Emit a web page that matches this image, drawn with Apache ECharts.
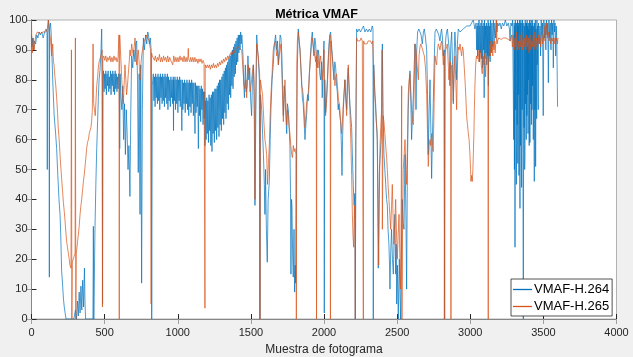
<!DOCTYPE html>
<html>
<head>
<meta charset="utf-8">
<script src="https://cdn.jsdelivr.net/npm/echarts@6/dist/echarts.min.js"></script>
<style>
html,body{margin:0;padding:0;background:#f0f0f0;}
#c{width:633px;height:357px;}
</style>
</head>
<body>
<div id="c"></div>
<script>
const chartTitle = 'Métrica VMAF';
const xAxisName = 'Muestra de fotograma';
const seriesNames = ['VMAF-H.264', 'VMAF-H.265'];
const xTicks = [0, 500, 1000, 1500, 2000, 2500, 3000, 3500, 4000];
const yTicks = [0, 10, 20, 30, 40, 50, 60, 70, 80, 90, 100];

// [frame, VMAF]
const vmafH264 = [
[0,95],[4,91],[8,94],[14,90],[20,93],[28,92],[36,95],[44,94],[52,96],[60,95],[70,96],[80,94],[90,96],[100,97],[106,96],[108,50],[110,95],[116,100],[120,98],[122,14],[124,97],[130,99],[134,96],[138,91],[145,80],[155,68],[165,62],[172,57],[180,48],[188,40],[195,35],[200,28],[206,16],[212,12],[218,7],[224,4],[230,2],[236,0],[290,0],[300,3],[308,0],[314,6],[320,1],[326,9],[332,2],[338,11],[344,3],[350,13],[356,4],[362,17],[366,5],[370,0],[420,0],[423,31],[426,0],[434,30],[440,45],[446,57],[452,66],[457,74],[462,80],[468,83],[474,88],[480,97],[484,78],[486,5],
[488,80],[492,83],[496,76],[500,82],[504,77],[508,83],[512,75],[516,82],[520,78],[524,83],[528,76],[532,81],[536,77],[540,83],[544,75],[548,82],[552,78],[556,83],[560,76],[564,82],[568,75],[572,83],[576,77],[580,82],[584,76],[588,81],[592,77],[596,82],[600,80],[603,57],[606,82],[612,74],[618,70],[624,78],[630,60],[636,72],[642,55],[648,70],[654,62],[660,50],[666,58],[673,41],[679,70],[685,88],[692,84],[700,90],[708,86],[714,92],[719,93],[725,80],[730,49],[736,82],[742,35],[747,85],[753,12],[758,70],[765,94],[772,90],[780,95],[788,92],[795,96],[800,95],[806,92],[812,94],[818,90],[822,0],[826,78],
[833,82],[837,73],[841,81],[845,71],[849,82],[853,74],[857,81],[861,72],[865,82],[869,73],[873,81],[877,70],[881,82],[885,74],[889,81],[893,72],[897,82],[901,73],[905,81],[909,71],[913,82],[917,74],[921,81],[925,72],[929,82],[933,70],[937,81],[941,73],[945,80],[949,71],[953,81],[957,74],[961,80],[965,72],[969,81],[971,63],[973,80],[977,73],[981,81],[985,70],[989,80],[993,72],[997,81],[1001,69],[1005,80],[1009,73],[1013,81],[1017,71],[1021,80],[1025,72],[1028,63],[1031,80],[1035,70],[1039,79],[1043,72],[1047,80],[1051,69],[1055,79],[1059,72],[1063,80],[1067,70],[1071,79],[1075,68],[1079,80],[1083,71],[1087,79],[1091,69],[1095,80],[1099,72],[1103,79],[1107,68],[1111,79],[1115,70],[1118,62],[1121,79],[1125,69],[1129,78],[1133,71],[1137,78],[1141,57],[1145,78],[1149,68],[1153,77],[1157,66],[1161,78],[1165,70],[1169,77],[1173,65],[1177,76],[1181,67],[1184,76],[1186,58],
[1190,73],[1194,60],[1198,74],[1202,62],[1206,73],[1210,59],[1214,75],[1218,63],[1222,74],[1226,58],[1230,75],[1234,56],[1238,76],[1242,62],[1246,76],[1250,59],[1254,77],[1258,63],[1262,77],[1266,60],[1270,78],[1274,64],[1278,79],[1282,61],[1286,80],[1290,65],[1294,80],[1298,63],[1302,81],[1306,67],[1310,82],[1314,65],[1318,83],[1322,69],[1326,84],[1330,67],[1334,85],[1338,72],[1342,86],[1346,70],[1350,87],[1354,75],[1358,88],[1362,74],[1366,89],[1370,78],[1374,90],[1378,77],[1382,91],[1386,81],[1390,92],[1394,82],[1398,93],[1402,85],[1406,94],[1410,86],[1414,95],[1418,89],[1422,95],[1426,90],[1430,96],[1434,92],[1438,95],
[1442,92],[1446,88],[1450,80],[1456,74],[1462,85],[1468,76],[1474,78],[1480,88],[1486,80],[1492,84],[1498,74],[1505,68],[1511,80],[1517,85],[1522,75],[1528,38],[1534,70],[1540,95],[1546,90],[1552,86],[1558,80],[1562,0],[1566,75],[1574,70],[1580,62],[1586,55],[1592,45],[1596,35],[1600,50],[1606,30],[1612,19],[1618,40],[1626,46],[1632,60],[1637,70],[1645,80],[1653,85],[1661,92],[1669,95],[1676,90],[1682,93],[1688,85],[1694,90],[1700,95],[1706,94],[1712,88],[1718,76],[1722,68],[1728,78],[1733,75],[1739,68],[1745,62],[1750,72],[1756,70],[1762,64],[1767,58],[1771,42],[1774,15],[1778,40],[1781,38],[1786,20],[1790,14],[1795,30],[1799,9],[1803,18],[1806,12],[1810,40],[1813,60],[1818,85],[1824,97],[1830,93],[1836,90],[1842,84],[1847,80],[1852,74],[1858,72],[1864,66],[1870,60],[1876,65],[1881,68],[1887,75],[1893,73],[1900,82],[1909,90],[1915,94],[1920,96],[1925,92],[1931,88],[1937,94],[1943,92],[1948,86],[1954,84],[1960,90],[1966,88],[1971,82],[1977,80],[1983,86],[1988,74],[1994,85],[2000,93],[2002,2],[2005,80],[2011,69],[2017,74],[2023,80],[2028,86],[2034,92],[2040,95],[2045,96],[2051,92],[2057,88],[2062,84],[2068,80],[2074,86],[2080,84],[2086,78],[2091,76],[2097,70],[2102,72],[2108,68],[2114,66],[2119,58],[2123,48],[2127,60],[2132,70],[2138,76],[2143,80],[2149,74],[2155,70],[2160,80],[2166,84],[2171,78],[2177,72],[2183,68],[2189,64],[2194,55],[2200,45],[2206,38],[2211,42],[2214,0],[2218,60],
[2223,97],[2230,96],[2240,97],[2250,96],[2260,97],[2270,98],[2280,96],[2290,97],[2300,96],[2310,97],[2320,96],[2330,98],[2335,97],[2337,0],[2340,85],[2344,80],[2348,75],[2353,72],[2358,66],[2364,60],[2368,40],[2371,17],[2375,35],[2379,50],[2383,50],[2388,58],[2394,62],[2399,92],[2404,70],[2410,55],[2416,50],[2422,45],[2428,40],[2433,38],[2438,30],[2444,25],[2448,18],[2451,10],[2456,22],[2462,30],[2468,20],[2474,15],[2480,28],[2485,35],[2490,15],[2494,25],[2497,5],[2502,18],[2508,0],[2512,12],[2515,20],[2520,8],[2524,0],[2530,25],[2535,40],[2541,32],[2547,30],[2551,45],[2554,55],[2560,35],[2565,10],[2570,50],[2576,70],[2582,78],[2588,83],[2594,72],[2599,60],[2605,68],[2611,75],[2617,85],
[2622,92],[2626,88],[2629,70],[2634,90],[2640,96],[2648,97],[2656,97],[2664,95],[2672,92],[2680,96],[2686,97],[2694,94],[2702,90],[2708,75],[2713,55],[2719,70],[2725,80],[2730,65],[2736,47],[2741,60],[2747,72],[2753,85],[2759,96],[2768,97],[2777,97],[2785,95],[2793,93],[2800,96],[2804,97],[2810,94],[2816,88],[2822,90],[2825,0],[2828,90],[2833,94],[2838,96],[2844,97],[2850,97],[2856,90],[2861,78],[2867,92],[2873,96],[2879,85],[2884,72],[2890,88],[2895,96],[2901,90],[2907,80],[2912,92],[2918,97],[2930,96],[2941,96],[2952,97],[2964,97],[2976,98],[2987,98],[2998,98],[3009,99],[3021,100],[3028,98],[3032,97],
[3040,99],[3044,90],[3047,98],[3050,88],[3053,99],[3056,90],[3060,100],[3063,86],[3066,98],[3070,89],[3073,99],[3076,87],[3080,100],[3083,84],[3086,98],[3090,90],[3093,99],[3095,74],[3098,100],[3101,87],[3104,98],[3107,89],[3110,99],[3113,85],[3116,98],[3119,88],[3122,100],[3124,78],[3127,99],[3130,88],[3133,98],[3136,86],[3139,100],[3143,89],[3148,99],[3153,91],[3158,100],[3163,93],[3168,99],[3173,94],[3178,100],[3183,96],[3188,99],[3195,98],[3203,99],[3212,97],[3220,99],[3230,98],[3240,100],[3250,98],[3260,99],[3268,97],[3272,93],[3278,99],[3285,98],[3290,100],
[3294,100],[3297,60],[3300,99],[3302,50],[3304,98],[3306,24],[3308,100],[3311,70],[3313,99],[3315,45],[3317,59],[3319,99],[3321,65],[3323,100],[3325,52],[3327,98],[3329,75],[3331,99],[3333,48],[3336,100],[3338,62],[3340,37],[3342,99],[3344,58],[3346,100],[3348,66],[3351,44],[3353,99],[3355,70],[3357,100],[3360,55],[3363,0],[3366,99],[3368,64],[3370,98],[3372,50],[3374,55],[3376,100],[3378,72],[3381,99],[3383,60],[3385,99],[3387,68],[3389,100],[3391,75],[3393,98],[3395,62],[3397,99],[3399,80],[3401,97],[3403,58],[3405,100],[3408,59],[3411,99],[3413,72],[3416,100],[3418,65],[3420,98],[3422,70],[3424,100],[3426,78],[3428,99],[3431,60],[3434,98],[3436,75],[3438,46],[3440,99],[3443,70],[3445,100],[3447,51],[3450,97],[3452,80],[3454,67],[3456,100],[3458,85],[3461,98],[3463,75],[3465,70],[3467,99],[3473,92],[3477,98],[3481,88],[3485,100],[3490,95],[3494,99],[3499,68],[3503,100],[3508,94],[3512,99],[3517,90],[3521,100],[3526,95],[3530,99],[3534,79],[3538,100],[3543,94],[3547,99],[3552,90],[3556,100],[3560,95],[3564,99],[3568,84],[3572,100],[3576,96],[3580,99],[3584,88],[3588,98],[3592,93],[3597,71]
];

const vmafH265 = [
[0,100],[2,92],[6,89],[12,94],[18,90],[24,93],[30,95],[40,96],[50,96],[60,95.5],[70,96],[80,96],[90,95.5],[100,96],[108,97],[115,100],[120,97],[125,95],[131,93],[138,88],[145,92],[150,86],[154,85],[160,81],[166,78],[172,74],[178,69],[183,64],[189,60],[195,55],[200,51],[206,47],[212,43],[218,39],[224,36],[229,33],[235,29],[240,26],[246,24],[252,22],[258,20],[263,18],[270,17],[273,90],[276,0],[279,19],[285,20],[292,21],[298,22],[300,94],[303,0],[306,22],[309,23],[315,26],[320,28],[326,31],[332,35],[338,38],[343,40],[349,43],[355,46],[360,48],[366,51],[372,54],[377,57],[383,59],[389,60],[395,62],[400,63],[406,64],[411,66],[416,70],[421,92],[425,72],[430,72],[436,68],[441,73],[446,78],[452,81],[457,84],[462,86],[468,87],[474,88],[480,88],[483,90],[485,4],[488,87],
[494,88],[501,86.5],[508,88],[515,86],[522,87.5],[529,86.5],[536,88],[543,86],[550,87.5],[557,86],[564,88],[571,86.5],[578,87.5],[585,86],[592,87.5],[596,87],[598,95],[600,0],[603,95],[608,90],[613,85],[617,80],[622,76],[628,72],[633,78],[639,85],[645,80],[650,75],[656,78],[662,82],[668,86],[673,90],[679,88],[685,92],[690,90],[696,88],[702,91],[708,94],[713,90],[719,85],[725,88],[730,90],[736,86],[742,80],[748,85],[753,88],[759,90],[765,92],[770,93],[776,93],[782,94],[787,95],[793,94],[799,94],[805,93],[810,91],[815,90],[818,5],[821,89],[826,88],
[833,88],[840,86.5],[847,88],[854,86],[861,87.5],[868,86.5],[875,88.5],[882,86],[889,87.5],[896,86],[903,88],[910,86.5],[917,87.5],[924,86],[931,88],[938,86],[945,87.5],[952,86.5],[959,87],[966,85],[973,88],[980,86],[987,87.5],[994,86],[1001,87.5],[1008,86],[1015,88],[1022,86.5],[1029,87.5],[1036,86],[1043,88],[1050,86],[1057,87.5],[1064,86],[1070,88],[1072,90.5],[1075,87],[1082,86],[1089,87.5],[1096,86],[1103,87.5],[1110,86],[1117,87.5],[1124,86],[1131,87],[1138,85.5],[1145,87],[1152,86],[1159,87],[1166,85.5],[1173,86.5],[1180,85.5],[1184,86],[1186,3.6],[1188,85],[1195,84],[1202,85],[1209,84],[1216,85],[1223,83.5],[1230,85],[1237,84],[1244,85.5],[1251,84],[1258,85],[1265,84],[1272,85.5],[1279,84.5],[1286,86],[1293,85],[1300,86.5],[1307,85.5],[1314,87],[1321,86],[1328,87.5],[1335,86.5],[1342,88],[1349,87],[1356,88.5],[1363,88],[1370,89.5],[1377,88.5],[1384,90],[1391,89],[1398,90.5],[1405,90],[1412,91],[1419,90.5],[1425,91.6],[1437,90],
[1443,86],[1448,82],[1454,78],[1460,77],[1466,80],[1471,74],[1476,80],[1482,85],[1488,82],[1494,76],[1500,78],[1505,80],[1511,83],[1517,85],[1522,80],[1526,60],[1528,40],[1532,70],[1539,92],[1545,90],[1551,88],[1556,84],[1560,82],[1562,0],[1565,80],[1574,80],[1580,75],[1585,70],[1590,65],[1596,60],[1602,58],[1608,55],[1614,45],[1620,52],[1626,58],[1632,68],[1637,75],[1645,82],[1653,90],[1661,92],[1669,93],[1676,88],[1682,90],[1688,85],[1694,88],[1700,90],[1706,92],[1710,85],[1716,76],[1722,66],[1728,74],[1733,80],[1739,72],[1745,65],[1750,70],[1756,68],[1762,64],[1767,62],[1773,58],[1779,55],[1784,54],[1790,58],[1796,56],[1802,57],[1808,55],[1811,0],[1814,85],[1818,93],[1824,96],[1830,93],[1836,90],[1842,84],[1847,78],[1852,77],[1858,75],[1864,70],[1870,64],[1876,68],[1881,72],[1887,74],[1893,76],[1900,82],[1909,88],[1915,92],[1920,94],[1925,92],[1931,90],[1937,88],[1943,86],[1947,88],[1949,0],[1951,89],[1954,90],[1960,87],[1966,84],[1971,86],[1977,88],[1983,84],[1988,80],[1994,84],[2000,90],[2005,78],[2011,68],[2017,72],[2023,78],[2028,84],[2034,90],[2040,94],[2042,95],[2044,0],[2047,93],[2052,90],[2058,87],[2064,84],[2070,80],[2075,78],[2080,81],[2086,82],[2092,78],[2098,74],[2104,72],[2109,70],[2114,66],[2120,62],[2126,66],[2132,72],[2138,76],[2143,80],[2149,74],[2155,68],[2160,76],[2166,85],[2171,78],[2177,70],[2183,60],[2189,48],[2194,35],[2198,28],[2203,24],[2208,38],[2212,30],[2214,0],[2217,60],
[2223,94],[2230,93],[2238,93.5],[2246,93],[2254,94],[2262,93],[2268,93],[2269,0],[2271,93],[2278,92],[2286,92.5],[2294,92],[2302,93],[2310,92.5],[2318,93],[2326,92],[2333,93],[2338,86],[2344,80],[2348,75],[2353,70],[2358,66],[2364,62],[2368,45],[2371,30],[2374,18],[2378,40],[2383,58],[2388,64],[2394,70],[2397,90],[2399,30],[2404,68],[2410,66],[2416,62],[2422,58],[2428,54],[2433,50],[2438,45],[2444,40],[2450,35],[2456,30],[2462,38],[2467,45],[2472,35],[2478,25],[2484,32],[2490,40],[2495,30],[2501,20],[2507,28],[2513,35],[2518,22],[2524,10],[2528,40],[2531,78],[2533,0],[2537,30],[2542,50],[2548,55],[2554,60],[2560,50],[2565,45],[2571,60],[2576,75],[2582,80],[2588,82],[2594,76],[2599,70],[2605,66],[2611,65],[2617,78],
[2622,92],[2629,90],[2636,85],[2645,80],[2650,88],[2656,91],[2662,92],[2668,92],[2675,90],[2680,89],[2686,88],[2694,84],[2702,75],[2708,62],[2713,51],[2719,58],[2725,60],[2730,58],[2736,62],[2742,58],[2747,56],[2753,72],[2759,88],[2765,86],[2770,85],[2776,90],[2782,92],[2788,91],[2793,90],[2799,92],[2804,93],[2810,90],[2816,85],[2821,88],[2823,0],[2826,88],[2832,90],[2838,91],[2843,92],[2849,86],[2854,80],[2860,85],[2866,86],[2868,0],[2871,84],[2875,85],[2880,80],[2884,73],[2890,82],[2895,88],[2901,80],[2907,70],[2912,84],[2918,91],[2924,90],[2930,92],[2935,90],[2941,88],[2947,91],[2952,90],[2958,85],[2964,80],[2970,74],[2975,68],[2981,65],[2987,62],[2992,60],[2998,55],[3002,50],[3005,46],[3009,48],[3014,46],[3018,50],[3021,55],[3025,62],[3028,70],[3032,78],[3037,85],[3042,88],[3048,87],[3053,90],[3060,86],[3066,90],[3071,88],[3077,84],[3082,82],[3088,88],[3094,85],[3100,89],[3105,81],[3110,87],[3117,88],[3121,86],[3123,0],[3125,86],[3130,88],[3134,92],[3138,88],[3142,93],[3146,89],[3150,92],[3154,88],[3158,93],[3162,90],[3166,93],[3170,89],[3174,92],[3178,93],[3180,100],[3183,92],[3187,93],[3195,94],[3203,94],[3212,93.5],[3220,94],[3228,94],[3236,93.5],[3244,94],[3252,94],[3260,93.5],[3268,94],[3275,93],[3283,95],
[3288,91],[3294,95],[3300,90],[3306,94],[3311,91],[3317,96],[3322,90],[3329,93],[3334,90],[3340,95],[3345,91],[3351,94],[3357,90],[3363,96],[3368,91],[3374,94],[3380,90],[3386,95],[3391,91],[3397,94],[3402,89],[3408,95],[3414,90],[3420,93],[3425,91],[3431,95],[3436,90],[3442,96],[3448,91],[3454,94],[3459,90],[3465,95],[3471,92],[3477,94],[3482,91],[3488,96],[3494,92],[3499,95],[3505,93],[3511,98],[3516,95],[3522,99],[3527,94],[3534,96],[3539,93],[3545,94],[3550,92],[3556,94],[3562,93],[3568,94],[3574,92],[3579,94],[3585,93],[3590,94],[3596,92],[3600,94]
];

const FONT = '"Liberation Sans", Arial, Helvetica, sans-serif';
const chart = echarts.init(document.getElementById('c'), null, {renderer: 'canvas'});
const xMin = xTicks[0], xMax = xTicks[xTicks.length - 1], xStep = xTicks[1] - xTicks[0];
const yMin = yTicks[0], yMax = yTicks[yTicks.length - 1], yStep = yTicks[1] - yTicks[0];
const plain = v => String(v);

chart.setOption({
  animation: false,
  backgroundColor: '#f0f0f0',
  title: {
    text: chartTitle, left: 'center', top: 3,
    textStyle: {fontFamily: FONT, fontSize: 12.5, fontWeight: 'bold', color: '#000'}
  },
  grid: {left: 31.5, right: 16.5, top: 20, bottom: 38, outerBoundsMode: 'none', containLabel: false, show: true, backgroundColor: '#ffffff', borderColor: '#a0a0a0', borderWidth: 0.8},
  legend: {
    orient: 'vertical', left: 511, top: 279,
    backgroundColor: '#ffffff', borderColor: '#262626', borderWidth: 0.8,
    padding: [3, 3, 2, 2], itemGap: 2, itemWidth: 19, itemHeight: 1.3,
    icon: 'rect',
    textStyle: {fontFamily: FONT, fontSize: 13, color: '#000', lineHeight: 15, padding: [0, 0, 0, -3]},
    data: seriesNames
  },
  xAxis: [{
    type: 'value', min: xMin, max: xMax, interval: xStep,
    name: xAxisName, nameLocation: 'middle', nameGap: 25,
    nameTextStyle: {fontFamily: FONT, fontSize: 12, color: '#262626'},
    axisLine: {show: true, onZero: false, lineStyle: {color: '#262626', width: 1}},
    axisTick: {show: true, inside: true, length: 5, lineStyle: {color: '#262626'}},
    axisLabel: {fontFamily: FONT, fontSize: 11, color: '#262626', margin: 8, formatter: plain},
    splitLine: {show: false}
  }, {
    type: 'value', position: 'top', min: xMin, max: xMax, interval: xStep,
    axisLine: {show: true, lineStyle: {color: '#a0a0a0', width: 0.8}},
    axisTick: {show: true, inside: true, length: 5, lineStyle: {color: '#a0a0a0'}},
    axisLabel: {show: false}, splitLine: {show: false}
  }],
  yAxis: [{
    type: 'value', min: yMin, max: yMax, interval: yStep,
    axisLine: {show: true, onZero: false, lineStyle: {color: '#262626', width: 1}},
    axisTick: {show: true, inside: true, length: 5, lineStyle: {color: '#262626'}},
    axisLabel: {fontFamily: FONT, fontSize: 11, color: '#262626', margin: 4, formatter: plain},
    splitLine: {show: false}
  }, {
    type: 'value', position: 'right', min: yMin, max: yMax, interval: yStep,
    axisLine: {show: true, lineStyle: {color: '#a0a0a0', width: 0.8}},
    axisTick: {show: true, inside: true, length: 5, lineStyle: {color: '#a0a0a0'}},
    axisLabel: {show: false}, splitLine: {show: false}
  }],
  series: [{
    name: seriesNames[0], type: 'line', data: vmafH264,
    xAxisIndex: 0, yAxisIndex: 0,
    showSymbol: false, symbol: 'none', clip: true,
    color: '#0072BD', lineStyle: {color: '#0072BD', width: 0.7}
  }, {
    name: seriesNames[1], type: 'line', data: vmafH265,
    xAxisIndex: 0, yAxisIndex: 0,
    showSymbol: false, symbol: 'none', clip: true,
    color: '#D95319', lineStyle: {color: '#D95319', width: 0.7}
  }]
});
</script>
</body>
</html>
